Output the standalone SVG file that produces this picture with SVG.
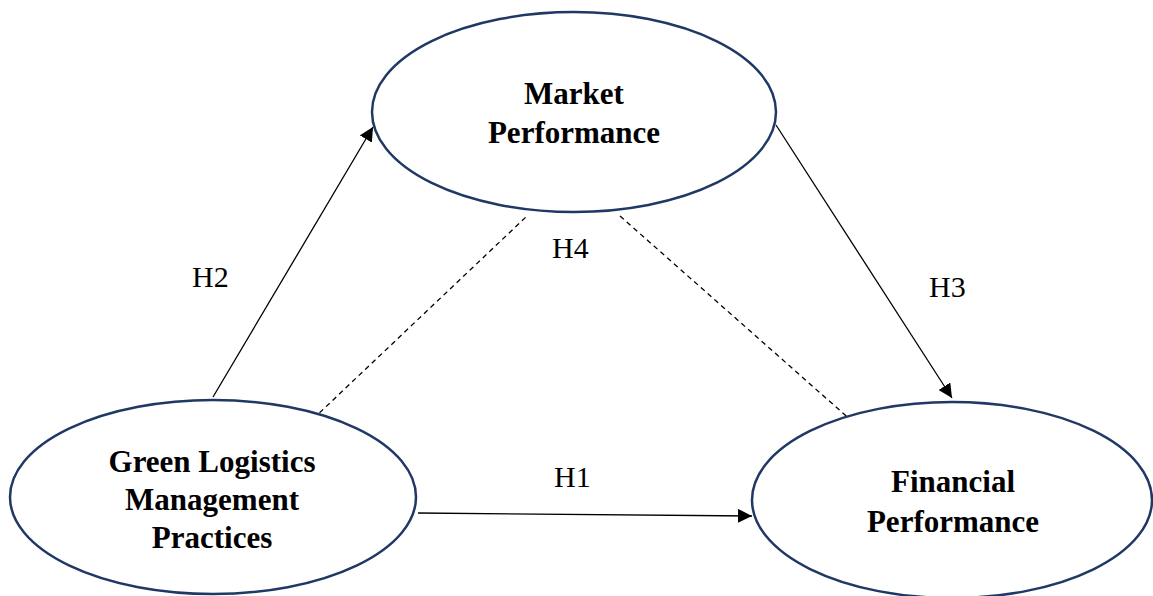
<svg xmlns="http://www.w3.org/2000/svg" width="1153" height="596" viewBox="0 0 1153 596">
<style>
.node{fill:#fff;stroke:#1f3864;stroke-width:2.5}
.lbl{font-family:"Liberation Serif","Times New Roman",serif;font-weight:bold;font-size:31px;fill:#000;text-anchor:middle}
.h{font-family:"Liberation Serif","Times New Roman",serif;font-size:30px;fill:#000}
.arr{stroke:#000;stroke-width:1.3;fill:none;marker-end:url(#ah)}
.dash{stroke:#000;stroke-width:1.3;fill:none;stroke-dasharray:5,4}
</style>
<defs>
<marker id="ah" viewBox="0 0 10 10" refX="10" refY="5" markerWidth="14" markerHeight="14" markerUnits="userSpaceOnUse" orient="auto">
<path d="M0,0 L10,5 L0,10 Z" fill="#000"/>
</marker>
</defs>
<rect width="1153" height="596" fill="#fff"/>
<g id="connectors">
<line class="arr" x1="213" y1="397" x2="373" y2="127"/>
<line class="arr" x1="776" y1="125" x2="952" y2="398"/>
<line class="arr" x1="418" y1="513" x2="752" y2="516"/>
<line class="dash" x1="313" y1="419" x2="527" y2="216"/>
<line class="dash" x1="620" y1="216" x2="853" y2="422"/>
<text class="h" x="192" y="287">H2</text>
<text class="h" x="552" y="258">H4</text>
<text class="h" x="929" y="297">H3</text>
<text class="h" x="554" y="487">H1</text>
</g>
<g id="market">
<ellipse class="node" cx="574" cy="112" rx="202" ry="100"/>
<text class="lbl" x="574" y="104">Market</text>
<text class="lbl" x="574" y="143">Performance</text>
</g>
<g id="green">
<ellipse class="node" cx="213" cy="497" rx="203" ry="97"/>
<text class="lbl" x="212" y="472">Green Logistics</text>
<text class="lbl" x="212" y="510">Management</text>
<text class="lbl" x="212" y="548">Practices</text>
</g>
<g id="financial">
<ellipse class="node" cx="952" cy="500" rx="200" ry="98"/>
<text class="lbl" x="953" y="492">Financial</text>
<text class="lbl" x="953" y="532">Performance</text>
</g>
</svg>
